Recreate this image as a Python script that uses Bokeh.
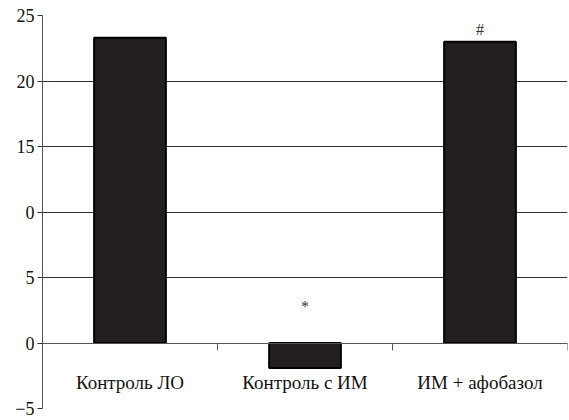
from bokeh.plotting import figure
from bokeh.models import FixedTicker, LinearAxis, Range1d, ColumnDataSource, Grid
from bokeh.core.properties import value
from bokeh.embed import file_html
from bokeh.resources import INLINE

categories = ["Контроль ЛО", "Контроль с ИМ", "ИМ + афобазол"]
values = [23.3, -1.9, 23.0]
marks = ["", "*", "#"]
mark_y = [None, 2.8, 23.9]
y_ticks = [-5, 0, 5, 10, 15, 20, 25]
y_tick_labels = ["−5", "0", "5", "0", "15", "20", "25"]

FONT = "Liberation Serif"
DARK = "#231f20"

xs = [i + 0.5 for i in range(len(categories))]

p = figure(width=569, height=420, output_backend="svg", toolbar_location=None,
           x_range=Range1d(0, len(categories)), y_range=Range1d(-5, 25),
           x_axis_type=None, y_axis_type=None,
           min_border_left=42, min_border_right=2, min_border_top=15, min_border_bottom=12)
p.outline_line_color = None
p.background_fill_color = "white"

# y axis
yax = LinearAxis(ticker=FixedTicker(ticks=y_ticks),
                 major_label_overrides={t: l for t, l in zip(y_ticks, y_tick_labels)})
yax.major_tick_out = 5
yax.major_tick_in = 0
yax.minor_tick_out = 0
yax.minor_tick_in = 0
yax.axis_line_color = "#555555"
yax.major_tick_line_color = "#333333"
yax.major_label_text_font = FONT
yax.major_label_text_font_size = "18px"
yax.major_label_text_color = "#111111"
yax.major_label_standoff = 3
p.add_layout(yax, "left")

grid = Grid(dimension=1, ticker=FixedTicker(ticks=[t for t in y_ticks if t >= 0]),
            grid_line_color="#333333", grid_line_width=1)
p.add_layout(grid)

# x axis at zero with ticks at category boundaries
bounds = list(range(len(categories) + 1))
xax = LinearAxis(ticker=FixedTicker(ticks=bounds), fixed_location=0,
                 major_label_overrides={b: "" for b in bounds})
xax.major_tick_out = 7
xax.major_tick_in = 0
xax.minor_tick_out = 0
xax.minor_tick_in = 0
xax.axis_line_color = "#555555"
xax.major_tick_line_color = "#555555"
p.add_layout(xax, "below")

src = ColumnDataSource(dict(x=xs, top=values, cat=categories))
p.vbar(x="x", top="top", bottom=0, width=0.41, source=src,
       fill_color=DARK, line_color="black", line_width=2)

p.text(x=xs, y=[-3.05] * len(categories), text=categories,
       text_font=value(FONT), text_font_size="19px", text_color="#111111",
       text_align="center", text_baseline="middle")

mx = [x for x, m in zip(xs, marks) if m]
my = [y for y, m in zip(mark_y, marks) if m]
mt = [m for m in marks if m]
p.text(x=mx, y=my, text=mt, text_font=value(FONT), text_font_size="16px",
       text_color="#333333", text_align="center", text_baseline="middle")

open("out.html", "w").write(file_html(p, INLINE))
